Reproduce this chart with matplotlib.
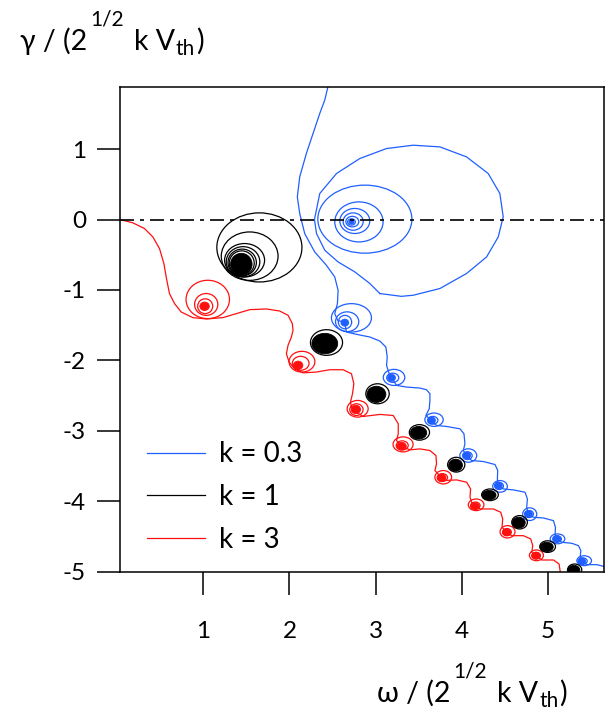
import matplotlib
matplotlib.use('Agg')
import matplotlib.pyplot as plt
from matplotlib.patches import Ellipse

# colours
BLUE = '#1f5fff'
RED = '#ff1010'
BLACK = 'black'

# ---- data (omega, gamma) ----
# blue (k = 0.3) line coming down from the top into the chain
blue_x = [2.46, 2.449, 2.410, 2.352, 2.274, 2.196, 2.119, 2.091, 2.119, 2.177, 2.293, 2.429,
          2.526, 2.565, 2.557, 2.526, 2.56, 2.643, 2.662, 2.779, 2.934, 3.050, 3.120, 3.136,
          3.128, 3.159, 3.186, 3.244, 3.361, 3.516, 3.593, 3.632, 3.632, 3.624, 3.585, 3.651,
          3.709, 3.826, 3.981, 4.028, 4.039, 4.020, 4.059, 4.117, 4.253, 4.389, 4.420, 4.416,
          4.427, 4.486, 4.602, 4.738, 4.765, 4.757, 4.777, 4.835, 4.951, 5.068, 5.091, 5.087,
          5.106, 5.165, 5.281, 5.359, 5.386, 5.378, 5.397, 5.456, 5.572, 5.650, 5.70]
blue_y = [1.95, 1.894, 1.695, 1.505, 1.221, 0.937, 0.606, 0.321, 0.084, -0.200, -0.460, -0.649,
          -0.815, -1.005, -1.194, -1.336, -1.43, -1.463, -1.596, -1.629, -1.667, -1.724, -1.809, -1.951,
          -2.069, -2.188, -2.245, -2.353, -2.377, -2.391, -2.415, -2.472, -2.567, -2.685, -2.780, -2.851,
          -2.922, -2.936, -2.969, -3.040, -3.183, -3.277, -3.348, -3.419, -3.433, -3.476, -3.561, -3.680,
          -3.774, -3.822, -3.836, -3.869, -3.964, -4.082, -4.177, -4.224, -4.234, -4.272, -4.366, -4.461,
          -4.532, -4.579, -4.593, -4.627, -4.698, -4.792, -4.849, -4.896, -4.896, -4.920, -4.94]

# blue outer turn of the big spiral near (2.7, 0)
blue_turn_x = [3.05, 3.30, 3.44, 3.748, 4.058, 4.291, 4.426, 4.484, 4.445, 4.309, 4.058, 3.748,
               3.437, 3.128, 2.817, 2.547, 2.352, 2.29, 2.314, 2.410, 2.565, 2.759, 2.934, 3.05]
blue_turn_y = [-1.05, -1.09, -1.074, -0.979, -0.766, -0.531, -0.247, 0.037, 0.369, 0.653, 0.888, 1.030,
               1.054, 1.007, 0.865, 0.653, 0.369, 0.0, -0.199, -0.436, -0.602, -0.743, -0.908, -1.05]

# red (k = 3) line
red_x = [0.03, 0.179, 0.314, 0.411, 0.489, 0.540, 0.574, 0.605, 0.664, 0.741, 0.877, 1.032,
         1.226, 1.382, 1.537, 1.731, 1.886, 1.983, 2.033, 2.041, 2.022, 1.983, 1.964, 1.995,
         2.06, 2.158, 2.313, 2.468, 2.623, 2.720, 2.748, 2.732, 2.709, 2.72, 2.771,
         2.856, 3.050, 3.205, 3.264, 3.264, 3.244, 3.302,
         3.399, 3.515, 3.632, 3.702, 3.709, 3.690, 3.768,
         3.787, 3.942, 4.059, 4.105, 4.098, 4.117, 4.156,
         4.214, 4.369, 4.455, 4.478, 4.470, 4.524,
         4.583, 4.718, 4.804, 4.827, 4.815, 4.866,
         4.932, 5.068, 5.133, 5.145, 5.153]
red_y = [0.0, -0.047, -0.128, -0.246, -0.412, -0.625, -0.862, -1.051, -1.193, -1.312, -1.392, -1.411,
         -1.392, -1.335, -1.279, -1.269, -1.298, -1.359, -1.477, -1.572, -1.667, -1.785, -1.904, -2.022,
         -2.12, -2.175, -2.164, -2.131, -2.131, -2.188, -2.330, -2.472, -2.590, -2.661, -2.73,
         -2.794, -2.765, -2.780, -2.898, -3.040, -3.135, -3.215,
         -3.268, -3.254, -3.277, -3.348, -3.467, -3.561, -3.665,
         -3.703, -3.694, -3.727, -3.822, -3.940, -4.011, -4.068,
         -4.106, -4.106, -4.153, -4.248, -4.366, -4.437,
         -4.485, -4.485, -4.532, -4.627, -4.721, -4.769,
         -4.830, -4.830, -4.887, -4.982, -5.077]

# spiral turns: (centre x, centre y, width, height)
blue_loops = [(2.876, 0.005, 1.093, 0.965), (2.807, -0.034, 0.561, 0.568), (2.759, -0.021, 0.348, 0.355),
              (2.74, -0.029, 0.233, 0.246), (2.73, -0.03, 0.15, 0.15), (2.72, -0.035, 0.09, 0.09),
              (2.72, -1.395, 0.465, 0.403), (2.67, -1.45, 0.27, 0.28), (2.645, -1.455, 0.155, 0.19),
              (3.215, -2.24, 0.25, 0.228), (3.20, -2.245, 0.14, 0.13),
              (3.68, -2.84, 0.213, 0.19), (3.665, -2.848, 0.12, 0.11),
              (4.078, -3.348, 0.196, 0.19), (4.068, -3.35, 0.11, 0.11),
              (4.447, -3.786, 0.17, 0.166), (4.437, -3.78, 0.10, 0.10),
              (4.792, -4.18, 0.164, 0.18), (4.785, -4.178, 0.10, 0.10),
              (5.115, -4.53, 0.17, 0.14), (5.11, -4.532, 0.10, 0.09),
              (5.425, -4.84, 0.17, 0.14), (5.41, -4.845, 0.10, 0.09)]
blue_blobs = [(2.72, -0.035, 0.06, 0.06), (2.643, -1.463, 0.09, 0.10), (3.186, -2.245, 0.09, 0.10),
              (3.651, -2.851, 0.09, 0.10), (4.059, -3.348, 0.09, 0.10), (4.427, -3.774, 0.09, 0.10),
              (4.777, -4.177, 0.09, 0.10), (5.106, -4.532, 0.09, 0.10), (5.397, -4.849, 0.09, 0.10)]

red_loops = [(1.05, -1.134, 0.505, 0.544), (1.032, -1.205, 0.27, 0.31), (1.02, -1.23, 0.175, 0.21),
             (2.145, -2.017, 0.30, 0.294), (2.13, -2.04, 0.194, 0.198),
             (2.792, -2.685, 0.244, 0.237), (2.778, -2.697, 0.155, 0.166),
             (3.32, -3.19, 0.233, 0.213), (3.31, -3.205, 0.14, 0.13),
             (3.787, -3.656, 0.194, 0.19), (3.777, -3.66, 0.12, 0.11),
             (4.169, -4.047, 0.182, 0.165), (4.16, -4.058, 0.11, 0.10),
             (4.534, -4.43, 0.174, 0.175), (4.528, -4.435, 0.10, 0.10),
             (4.87, -4.764, 0.163, 0.152), (4.866, -4.768, 0.10, 0.09)]
red_blobs = [(1.013, -1.231, 0.11, 0.12), (2.10, -2.069, 0.11, 0.12), (2.771, -2.694, 0.11, 0.12),
             (3.302, -3.215, 0.11, 0.11), (3.768, -3.665, 0.10, 0.11), (4.156, -4.068, 0.10, 0.10),
             (4.524, -4.437, 0.10, 0.10), (4.866, -4.769, 0.10, 0.10)]

black_loops = [(1.65, -0.396, 0.989, 0.98), (1.537, -0.52, 0.66, 0.687), (1.478, -0.578, 0.465, 0.474),
               (1.46, -0.60, 0.39, 0.43), (1.45, -0.61, 0.33, 0.38), (1.445, -0.62, 0.29, 0.35),
               (2.43, -1.745, 0.373, 0.364), (3.023, -2.472, 0.272, 0.284), (3.51, -3.02, 0.235, 0.22),
               (3.938, -3.478, 0.20, 0.21), (4.33, -3.905, 0.194, 0.165), (4.674, -4.295, 0.182, 0.19),
               (5.0, -4.64, 0.183, 0.165), (5.314, -4.97, 0.166, 0.166)]
black_blobs = [(1.44, -0.635, 0.25, 0.31), (2.41, -1.76, 0.30, 0.29), (3.01, -2.48, 0.22, 0.23),
               (3.50, -3.025, 0.19, 0.18), (3.93, -3.485, 0.16, 0.17), (4.32, -3.91, 0.16, 0.135),
               (4.665, -4.30, 0.15, 0.155), (4.99, -4.645, 0.15, 0.135), (5.305, -4.975, 0.14, 0.14)]

x_ticks = [1, 2, 3, 4, 5]
y_ticks = [1, 0, -1, -2, -3, -4, -5]
labels = ['k = 0.3', 'k = 1', 'k = 3']

plt.rcParams['font.family'] = ['Lato', 'DejaVu Sans']
plt.rcParams['axes.unicode_minus'] = False

W, H = 611, 710
fig = plt.figure(figsize=(W / 100, H / 100), dpi=100)
ax = fig.add_axes([0.1964, 0.1944, 0.7921, 0.6831])

lw = 0.9
hb, = ax.plot(blue_x, blue_y, color=BLUE, lw=lw, label=labels[0])
ax.plot(blue_turn_x, blue_turn_y, color=BLUE, lw=lw)
hk, = ax.plot([], [], color=BLACK, lw=lw, label=labels[1])
hr, = ax.plot(red_x, red_y, color=RED, lw=lw, label=labels[2])

for loops, blobs, col in [(blue_loops, blue_blobs, BLUE), (red_loops, red_blobs, RED),
                          (black_loops, black_blobs, BLACK)]:
    for cx, cy, w, h in loops:
        ax.add_patch(Ellipse((cx, cy), w, h, fill=False, ec=col, lw=lw))
    for cx, cy, w, h in blobs:
        ax.add_patch(Ellipse((cx, cy), w, h, fc=col, ec=col, lw=0.6))

ax.axhline(0, color='black', lw=1.2, dashes=(8.4, 3.6, 2.4, 3.6), zorder=5)

ax.set_xlim(0.03, 5.655)
ax.set_ylim(-5, 1.88)
ax.set_xticks(x_ticks)
ax.set_yticks(y_ticks)
ax.tick_params(direction='out', length=16.5, width=1.1, labelsize=17.5)
ax.tick_params(axis='x', pad=19)
ax.tick_params(axis='y', pad=8)
for s in ax.spines.values():
    s.set_linewidth(1.1)

ax.legend(handles=[hb, hk, hr], frameon=False, fontsize=20, loc='center left',
          bbox_to_anchor=(0.2406, 0.300), bbox_transform=fig.transFigure,
          handlelength=2.1, handletextpad=0.5, labelspacing=0.6,
          borderpad=0, borderaxespad=0)


# axis titles: pieces laid side by side, superscript raised high as in the original
def label_pieces(x0, base, first):
    rend = fig.canvas.get_renderer()
    parts = [(first, 20.5, 0, 3), ('1/2', 15, 25, 10), ('k V', 20.5, 0, 1),
             ('th', 15, -5, 1), (')', 20.5, 0, 0)]
    x = x0
    for s, size, dy, gap in parts:
        t = fig.text(x / W, 1 - (base - dy) / H, s, fontsize=size, va='baseline', ha='left')
        x = t.get_window_extent(renderer=rend).x1 + gap


label_pieces(20, 50, 'γ / (2')
label_pieces(377, 702, 'ω / (2')

fig.savefig('out.png', dpi=100)
